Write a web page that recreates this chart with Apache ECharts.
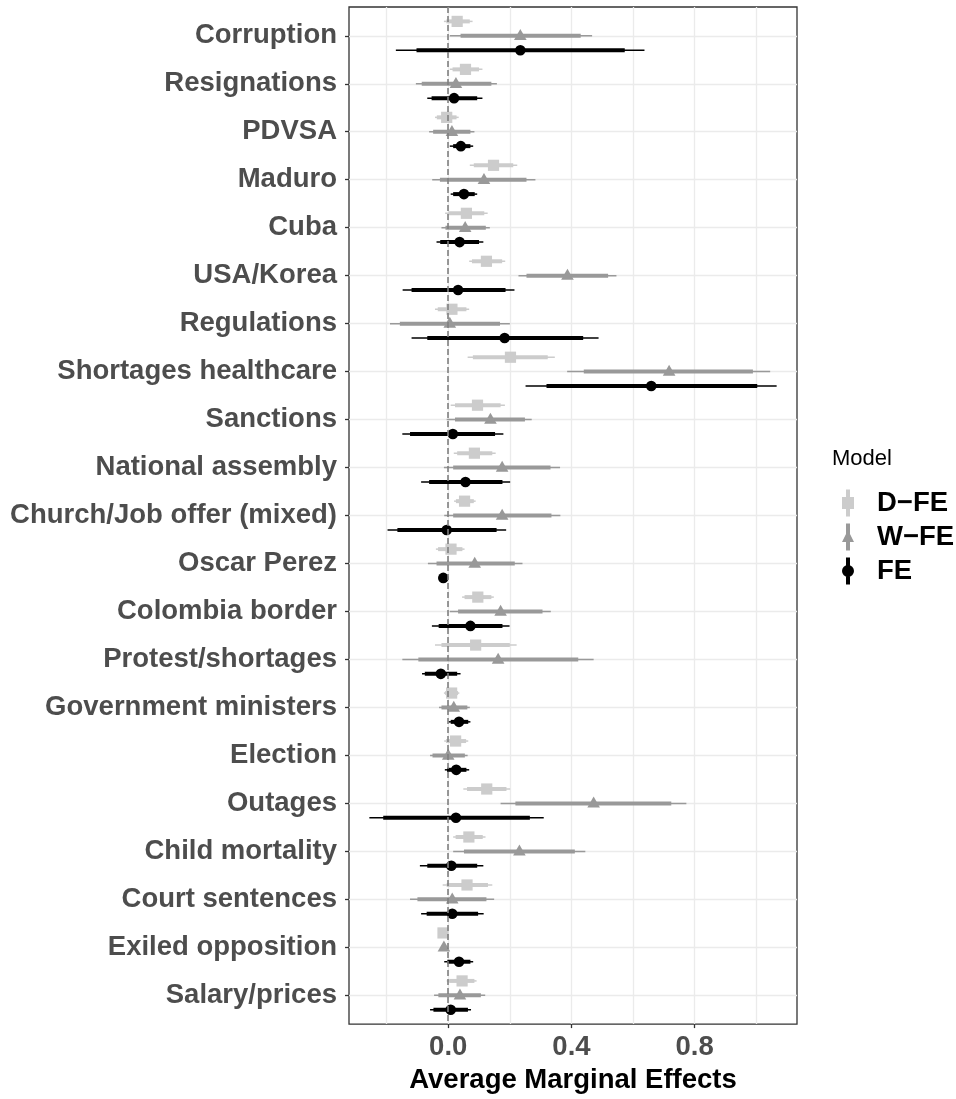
<!DOCTYPE html>
<html>
<head>
<meta charset="utf-8">
<script src="https://cdn.jsdelivr.net/npm/echarts@6/dist/echarts.min.js"></script>
<style>
  html, body { margin: 0; padding: 0; background: #ffffff; }
  #chart { width: 956px; height: 1099px; }
</style>
</head>
<body>
<div id="chart"></div>
<script>
// Topics, listed from top to bottom of the plot
const categories = [
  'Corruption', 'Resignations', 'PDVSA', 'Maduro', 'Cuba', 'USA/Korea',
  'Regulations', 'Shortages healthcare', 'Sanctions', 'National assembly',
  'Church/Job offer (mixed)', 'Oscar Perez', 'Colombia border',
  'Protest/shortages', 'Government ministers', 'Election', 'Outages',
  'Child mortality', 'Court sentences', 'Exiled opposition', 'Salary/prices'
];

const modelNames = ['D\u2212FE', 'W\u2212FE', 'FE'];

// D-FE: estimate, outer interval, inner interval
const dfeEst  = [0.029, 0.056, -0.005, 0.147, 0.059, 0.124, 0.012, 0.202, 0.095, 0.085, 0.053, 0.009, 0.096, 0.089, 0.011, 0.024, 0.125, 0.067, 0.061, -0.017, 0.045];
const dfeLo95 = [-0.014, 0.005, -0.043, 0.070, -0.010, 0.068, -0.043, 0.063, 0.008, 0.018, 0.019, -0.040, 0.045, -0.043, -0.014, -0.013, 0.049, 0.016, -0.018, -0.024, -0.005];
const dfeHi95 = [0.079, 0.111, 0.034, 0.224, 0.128, 0.185, 0.068, 0.346, 0.184, 0.154, 0.089, 0.053, 0.148, 0.222, 0.036, 0.065, 0.201, 0.121, 0.143, -0.010, 0.092];
const dfeLo90 = [-0.006, 0.014, -0.037, 0.083, 0.001, 0.077, -0.034, 0.080, 0.022, 0.029, 0.025, -0.033, 0.053, -0.022, -0.010, -0.007, 0.061, 0.024, -0.005, -0.023, 0.003];
const dfeHi90 = [0.070, 0.100, 0.027, 0.211, 0.117, 0.175, 0.059, 0.323, 0.170, 0.143, 0.083, 0.046, 0.140, 0.200, 0.032, 0.058, 0.189, 0.112, 0.129, -0.011, 0.085];

// W-FE
const wfeEst  = [0.234, 0.025, 0.012, 0.116, 0.055, 0.387, 0.005, 0.717, 0.137, 0.175, 0.175, 0.086, 0.170, 0.162, 0.018, 0.000, 0.472, 0.231, 0.013, -0.014, 0.038];
const wfeLo95 = [0.005, -0.105, -0.062, -0.052, -0.022, 0.228, -0.189, 0.386, -0.005, -0.014, -0.013, -0.066, 0.005, -0.149, -0.030, -0.059, 0.170, 0.016, -0.124, -0.022, -0.046];
const wfeHi95 = [0.467, 0.158, 0.085, 0.283, 0.135, 0.546, 0.200, 1.045, 0.271, 0.363, 0.364, 0.241, 0.333, 0.472, 0.070, 0.063, 0.773, 0.445, 0.149, -0.006, 0.120];
const wfeLo90 = [0.040, -0.086, -0.049, -0.027, -0.009, 0.254, -0.157, 0.440, 0.022, 0.016, 0.016, -0.038, 0.032, -0.097, -0.022, -0.051, 0.218, 0.051, -0.100, -0.021, -0.032];
const wfeHi90 = [0.430, 0.140, 0.072, 0.254, 0.122, 0.519, 0.168, 0.989, 0.249, 0.332, 0.335, 0.216, 0.306, 0.422, 0.062, 0.054, 0.724, 0.411, 0.124, -0.007, 0.106];

// FE
const feEst  = [0.234, 0.019, 0.041, 0.051, 0.037, 0.032, 0.183, 0.659, 0.015, 0.056, -0.005, -0.016, 0.072, -0.024, 0.035, 0.026, 0.025, 0.010, 0.013, 0.035, 0.008];
const feLo95 = [-0.170, -0.068, 0.005, 0.008, -0.038, -0.148, -0.119, 0.251, -0.149, -0.088, -0.197, -0.026, -0.053, -0.085, 0.001, -0.011, -0.256, -0.092, -0.088, -0.013, -0.059];
const feHi95 = [0.637, 0.111, 0.081, 0.094, 0.114, 0.215, 0.488, 1.066, 0.179, 0.201, 0.188, -0.006, 0.199, 0.040, 0.072, 0.068, 0.310, 0.114, 0.115, 0.081, 0.074];
const feLo90 = [-0.103, -0.054, 0.016, 0.016, -0.026, -0.119, -0.068, 0.319, -0.124, -0.062, -0.165, -0.024, -0.031, -0.076, 0.008, -0.004, -0.211, -0.068, -0.070, -0.003, -0.048];
const feHi90 = [0.573, 0.094, 0.072, 0.086, 0.100, 0.186, 0.438, 1.003, 0.152, 0.176, 0.157, -0.008, 0.176, 0.029, 0.065, 0.059, 0.265, 0.094, 0.097, 0.072, 0.064];

// Axis breaks
const xTickValues = [0, 0.4, 0.8];
const xGridValues = [-0.2, 0, 0.2, 0.4, 0.6, 0.8, 1.0];

// ---------------------------------------------------------------------------
const FONT = "'Liberation Sans', Arial, Helvetica, sans-serif";
const catIdx = categories.map((_, i) => i);

function rows(est, lo95, hi95, lo90, hi90) {
  return categories.map((_, i) => [i, est[i], lo95[i], hi95[i], lo90[i], hi90[i]]);
}

// x range: data extent padded by 5% on each side
const allLo = [].concat(dfeLo95, wfeLo95, feLo95);
const allHi = [].concat(dfeHi95, wfeHi95, feHi95);
const dataMin = Math.min.apply(null, allLo);
const dataMax = Math.max.apply(null, allHi);
const pad = 0.05 * (dataMax - dataMin);
const xMin = dataMin - pad;
const xMax = dataMax + pad;

// point + thin outer line + thick inner line, dodged vertically within the row
function pointRange(dodge, shape) {
  return function (params, api) {
    const yv = api.value(0) + dodge;
    const c = api.coord([api.value(1), yv]);
    const y = c[1];
    const x95a = api.coord([api.value(2), yv])[0];
    const x95b = api.coord([api.value(3), yv])[0];
    const x90a = api.coord([api.value(4), yv])[0];
    const x90b = api.coord([api.value(5), yv])[0];
    const color = api.visual('color');
    let marker;
    if (shape === 'square') {
      marker = { type: 'rect', shape: { x: c[0] - 5.6, y: y - 5.6, width: 11.2, height: 11.2 }, style: { fill: color } };
    } else if (shape === 'triangle') {
      marker = { type: 'polygon', shape: { points: [[c[0], y - 6.8], [c[0] + 6.3, y + 4.2], [c[0] - 6.3, y + 4.2]] }, style: { fill: color } };
    } else {
      marker = { type: 'circle', shape: { cx: c[0], cy: y, r: 5.3 }, style: { fill: color } };
    }
    return {
      type: 'group',
      children: [
        { type: 'line', shape: { x1: x95a, y1: y, x2: x95b, y2: y }, style: { stroke: color, lineWidth: 1.5, lineCap: 'butt' } },
        { type: 'line', shape: { x1: x90a, y1: y, x2: x90b, y2: y }, style: { stroke: color, lineWidth: 4, lineCap: 'butt' } },
        marker
      ]
    };
  };
}

// legend keys: vertical range line with the model's marker
const keySquare   = 'path://M4,0H8V27H4Z M0,7.5H12V19.5H0Z';
const keyTriangle = 'path://M4,0H8V27H4Z M6,6.5L12,18.5L0,18.5Z';
const keyCircle   = 'path://M4,0H8V27H4Z M0,13.5A6,6 0 1,1 12,13.5A6,6 0 1,1 0,13.5Z';

const chart = echarts.init(document.getElementById('chart'), null, { renderer: 'canvas' });

chart.setOption({
  animation: false,
  backgroundColor: '#ffffff',
  title: {
    text: 'Model',
    left: 832,
    top: 448,
    padding: 0,
    textStyle: { fontFamily: FONT, fontSize: 22, fontWeight: 'normal', color: '#000000' }
  },
  legend: {
    orient: 'vertical',
    left: 842,
    top: 489,
    padding: 0,
    itemWidth: 12,
    itemHeight: 27,
    itemGap: 6,
    selectedMode: false,
    data: [
      { name: modelNames[0], icon: keySquare },
      { name: modelNames[1], icon: keyTriangle },
      { name: modelNames[2], icon: keyCircle }
    ],
    textStyle: {
      fontFamily: FONT, fontSize: 27.5, fontWeight: 'bold', color: '#000000',
      lineHeight: 27, padding: [0, 0, 0, 18]
    }
  },
  grid: {
    left: 349, right: 159, top: 7, bottom: 70,
    show: true, borderColor: '#333333', borderWidth: 1.3, backgroundColor: '#ffffff'
  },
  xAxis: [
    {
      type: 'value', min: xMin, max: xMax, position: 'bottom',
      axisLine: { show: false, onZero: false },
      axisTick: { show: false, customValues: xGridValues },
      axisLabel: { show: false },
      splitLine: { show: true, lineStyle: { color: '#EBEBEB', width: 1.3 } }
    },
    {
      type: 'value', min: xMin, max: xMax, position: 'bottom',
      axisLine: { show: false, onZero: false },
      axisTick: { show: true, customValues: xTickValues, length: 4, lineStyle: { color: '#333333', width: 1.3 } },
      axisLabel: {
        customValues: xTickValues, margin: 9,
        formatter: v => v.toFixed(1),
        fontFamily: FONT, fontSize: 27.5, fontWeight: 'bold', color: '#4D4D4D'
      },
      splitLine: { show: false },
      name: 'Average Marginal Effects',
      nameLocation: 'middle',
      nameGap: 37,
      nameTextStyle: { fontFamily: FONT, fontSize: 27.5, fontWeight: 'bold', color: '#000000' }
    }
  ],
  yAxis: {
    type: 'value', inverse: true, min: -0.6, max: categories.length - 1 + 0.6,
    position: 'left',
    axisLine: { show: false, onZero: false },
    axisTick: { show: true, customValues: catIdx, length: 4, lineStyle: { color: '#333333', width: 1.3 } },
    axisLabel: {
      customValues: catIdx, margin: 12,
      padding: [4, 0, 0, 0],
      formatter: v => categories[Math.round(v)],
      fontFamily: FONT, fontSize: 27.5, fontWeight: 'bold', color: '#4D4D4D'
    },
    splitLine: { show: true, lineStyle: { color: '#EBEBEB', width: 1.3 } }
  },
  series: [
    {
      // dashed reference line at zero effect
      type: 'line', name: 'zero', data: [], z: 1, silent: true,
      markLine: {
        symbol: 'none', silent: true, animation: false,
        label: { show: false },
        lineStyle: { type: [6, 3], color: '#7F7F7F', width: 1.6 },
        data: [{ xAxis: 0 }]
      }
    },
    {
      type: 'custom', name: modelNames[0], z: 2,
      itemStyle: { color: '#CCCCCC' },
      encode: { x: [1, 2, 3, 4, 5], y: 0 },
      renderItem: pointRange(-0.3, 'square'),
      data: rows(dfeEst, dfeLo95, dfeHi95, dfeLo90, dfeHi90)
    },
    {
      type: 'custom', name: modelNames[1], z: 2,
      itemStyle: { color: '#999999' },
      encode: { x: [1, 2, 3, 4, 5], y: 0 },
      renderItem: pointRange(0, 'triangle'),
      data: rows(wfeEst, wfeLo95, wfeHi95, wfeLo90, wfeHi90)
    },
    {
      type: 'custom', name: modelNames[2], z: 2,
      itemStyle: { color: '#000000' },
      encode: { x: [1, 2, 3, 4, 5], y: 0 },
      renderItem: pointRange(0.3, 'circle'),
      data: rows(feEst, feLo95, feHi95, feLo90, feHi90)
    }
  ]
});
</script>
</body>
</html>
